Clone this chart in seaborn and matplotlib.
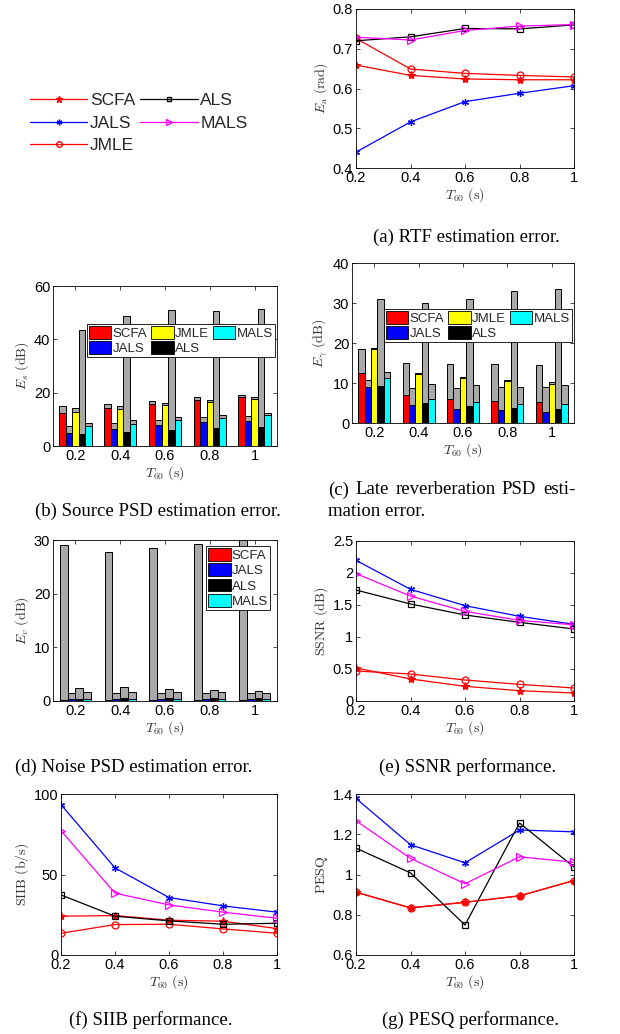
import matplotlib
matplotlib.use("Agg")
import matplotlib.pyplot as plt
import seaborn as sns
import pandas as pd
from matplotlib.patches import Patch
from matplotlib.lines import Line2D

sns.set_theme(style="ticks")
plt.rcParams['font.family'] = ['Liberation Sans', 'DejaVu Sans']
plt.rcParams['mathtext.fontset'] = 'cm'
plt.rcParams['axes.linewidth'] = 0.6
plt.rcParams['axes.edgecolor'] = 'black'

# ---- data ----
t60 = [0.2, 0.4, 0.6, 0.8, 1.0]
t60_labels = ["0.2", "0.4", "0.6", "0.8", "1"]
methods = ["SCFA", "JALS", "JMLE", "ALS", "MALS"]

# (a) RTF estimation error (rad)
rtf_err = {
    "SCFA": [0.659, 0.633, 0.624, 0.622, 0.622],
    "JALS": [0.440, 0.516, 0.567, 0.588, 0.607],
    "JMLE": [0.726, 0.649, 0.638, 0.633, 0.629],
    "ALS":  [0.720, 0.730, 0.751, 0.750, 0.760],
    "MALS": [0.729, 0.722, 0.746, 0.757, 0.761],
}

# (b) source PSD estimation error (dB): coloured part and grey top
src_methods = ["SCFA", "JALS", "JMLE", "ALS", "MALS"]
src_err = {
    "SCFA": [12.4, 14.4, 15.9, 17.4, 18.4],
    "JALS": [5.0, 6.5, 7.9, 9.0, 9.5],
    "JMLE": [12.9, 13.9, 15.5, 16.6, 17.6],
    "ALS":  [4.6, 5.1, 5.9, 6.6, 7.1],
    "MALS": [7.5, 8.4, 9.9, 10.6, 11.6],
}
src_err_top = {
    "SCFA": [14.9, 15.9, 17.0, 18.25, 19.1],
    "JALS": [7.4, 8.75, 9.9, 10.9, 11.4],
    "JMLE": [14.1, 15.1, 16.25, 17.25, 18.25],
    "ALS":  [43.4, 48.6, 51.1, 50.5, 51.4],
    "MALS": [8.75, 9.9, 11.0, 11.75, 12.5],
}

# (c) late reverberation PSD estimation error (dB)
rev_err = {
    "SCFA": [12.5, 7.1, 6.0, 5.6, 5.2],
    "JALS": [9.0, 4.4, 3.6, 3.2, 2.8],
    "JMLE": [18.6, 12.3, 11.2, 10.4, 9.8],
    "ALS":  [9.3, 5.0, 4.2, 3.7, 3.4],
    "MALS": [11.3, 6.1, 5.2, 4.8, 4.8],
}
rev_err_top = {
    "SCFA": [18.4, 15.1, 14.75, 14.75, 14.5],
    "JALS": [10.7, 8.7, 8.7, 9.1, 8.9],
    "JMLE": [18.8, 12.6, 11.4, 10.7, 10.2],
    "ALS":  [31.1, 30.0, 31.1, 33.1, 33.6],
    "MALS": [12.7, 9.75, 9.4, 9.1, 9.4],
}

# (d) noise PSD estimation error (dB)
noise_methods = ["SCFA", "JALS", "ALS", "MALS"]
noise_err = {
    "SCFA": [0.1, 0.1, 0.1, 0.1, 0.1],
    "JALS": [0.3, 0.35, 0.35, 0.35, 0.35],
    "ALS":  [0.4, 0.5, 0.5, 0.5, 0.5],
    "MALS": [0.3, 0.3, 0.3, 0.3, 0.3],
}
noise_err_top = {
    "SCFA": [29.0, 27.8, 28.6, 29.25, 30.5],
    "JALS": [1.4, 1.5, 1.5, 1.4, 1.4],
    "ALS":  [2.4, 2.6, 2.2, 2.0, 1.8],
    "MALS": [1.7, 1.7, 1.6, 1.6, 1.5],
}

# (e) SSNR (dB)
ssnr = {
    "SCFA": [0.516, 0.344, 0.229, 0.161, 0.125],
    "JALS": [2.198, 1.745, 1.490, 1.323, 1.198],
    "JMLE": [0.469, 0.422, 0.328, 0.260, 0.203],
    "ALS":  [1.734, 1.516, 1.344, 1.229, 1.125],
    "MALS": [1.990, 1.640, 1.400, 1.260, 1.190],
}

# (f) SIIB (b/s)
siib = {
    "SCFA": [24.1, 24.5, 21.6, 21.0, 16.4],
    "JALS": [93.4, 54.1, 35.7, 30.5, 26.6],
    "JMLE": [13.5, 18.9, 19.1, 16.2, 13.5],
    "ALS":  [37.3, 24.1, 21.2, 19.1, 19.7],
    "MALS": [77.2, 38.4, 31.1, 26.6, 22.8],
}

# (g) PESQ
pesq = {
    "SCFA": [0.912, 0.834, 0.862, 0.894, 0.970],
    "JALS": [1.378, 1.148, 1.058, 1.221, 1.212],
    "JMLE": [0.912, 0.834, 0.862, 0.894, 0.970],
    "ALS":  [1.131, 1.008, 0.749, 1.256, 1.037],
    "MALS": [1.267, 1.080, 0.954, 1.088, 1.061],
}

# ---- styles ----
line_style = {
    "SCFA": dict(color="red", marker="*", mfc="red", ms=6),
    "JALS": dict(color="blue", marker=(6, 2, 0), mfc="blue", ms=5),
    "JMLE": dict(color="red", marker="o", mfc="none", ms=5),
    "ALS":  dict(color="black", marker="s", mfc="none", ms=4),
    "MALS": dict(color="magenta", marker=">", mfc="none", ms=6),
}
bar_color = {"SCFA": "red", "JALS": "blue", "JMLE": "yellow", "ALS": "black", "MALS": "cyan"}
GREY = "#a9a9a9"

W, H = 620, 1034
fig = plt.figure(figsize=(W / 100, H / 100), dpi=100)


def add_ax(l, r, t, b):
    return fig.add_axes([l / W, 1 - b / H, (r - l) / W, (b - t) / H])


def style_ax(ax, ylabel):
    ax.tick_params(direction="in", top=True, right=True, length=3, width=0.5,
                   labelsize=10.5, pad=2, colors="black")
    for s in ax.spines.values():
        s.set_linewidth(0.6)
        s.set_color("black")
    ax.set_xlabel(r"$T_{60}\ \mathrm{(s)}$", fontsize=10, labelpad=1, color="#333333")
    ax.set_ylabel(ylabel, fontsize=10, labelpad=2, color="#333333")


def line_panel(ax, data, ylim, yticks, ylabel):
    for m in methods:
        st = line_style[m]
        sns.lineplot(x=t60, y=data[m], ax=ax, color=st["color"], marker=st["marker"],
                     markerfacecolor=st["mfc"], markeredgecolor=st["color"],
                     markersize=st["ms"], markeredgewidth=0.9, linewidth=0.9)
    ax.set_xlim(0.2, 1.0)
    ax.set_xticks(t60)
    ax.set_xticklabels(t60_labels)
    ax.set_ylim(*ylim)
    ax.set_yticks(yticks)
    style_ax(ax, ylabel)


def bar_panel(ax, order, low, top, ylim, yticks, ylabel, width):
    rows = []
    for m in order:
        for i, lab in enumerate(t60_labels):
            rows.append({"T60": lab, "method": m, "low": low[m][i], "top": top[m][i]})
    df = pd.DataFrame(rows)
    sns.barplot(data=df, x="T60", y="top", hue="method", order=t60_labels, hue_order=order,
                palette={m: GREY for m in order}, width=width, edgecolor="black",
                linewidth=0.7, saturation=1, errorbar=None, legend=False, ax=ax)
    sns.barplot(data=df, x="T60", y="low", hue="method", order=t60_labels, hue_order=order,
                palette=bar_color, width=width, edgecolor="black",
                linewidth=0.7, saturation=1, errorbar=None, legend=False, ax=ax)
    ax.set_xlim(-0.5, 4.5)
    ax.set_ylim(*ylim)
    ax.set_yticks(yticks)
    style_ax(ax, ylabel)


def bar_legend(ax, order, ncol, anchor):
    handles = [Patch(facecolor=bar_color[m], edgecolor="black", linewidth=0.6) for m in order]
    leg = ax.legend(handles, order, ncol=ncol, loc="upper right", bbox_to_anchor=anchor,
                    borderaxespad=0, fontsize=9.5, handlelength=1.7, handleheight=1.1,
                    handletextpad=0.1, columnspacing=0.3, labelspacing=0.12,
                    borderpad=0.15, fancybox=False, framealpha=1, edgecolor="black")
    leg.get_frame().set_linewidth(0.6)


# (a)
ax_a = add_ax(356, 574, 9, 168)
line_panel(ax_a, rtf_err, (0.4, 0.8), [0.4, 0.5, 0.6, 0.7, 0.8], r"$E_{\mathrm{a}}\ \mathrm{(rad)}$")

# (b)
ax_b = add_ax(53, 277, 286, 446)
bar_panel(ax_b, src_methods, src_err, src_err_top, (0, 60), [0, 20, 40, 60],
          r"$E_s\ \mathrm{(dB)}$", 0.72)
bar_legend(ax_b, src_methods, 3, (0.991, 0.7625))

# (c)
ax_c = add_ax(352, 574, 263, 423)
bar_panel(ax_c, src_methods, rev_err, rev_err_top, (0, 40), [0, 10, 20, 30, 40],
          r"$E_\gamma\ \mathrm{(dB)}$", 0.72)
bar_legend(ax_c, src_methods, 3, (0.991, 0.7125))

# (d)
ax_d = add_ax(53, 277, 540, 701)
bar_panel(ax_d, noise_methods, noise_err, noise_err_top, (0, 30), [0, 10, 20, 30],
          r"$E_v\ \mathrm{(dB)}$", 0.70)
bar_legend(ax_d, noise_methods, 1, (0.969, 0.963))

# (e)
ax_e = add_ax(356, 574, 541, 701)
line_panel(ax_e, ssnr, (0, 2.5), [0, 0.5, 1, 1.5, 2, 2.5], r"$\mathrm{SSNR\ (dB)}$")
ax_e.set_yticklabels(["0", "0.5", "1", "1.5", "2", "2.5"])

# (f)
ax_f = add_ax(61, 277, 794, 955)
line_panel(ax_f, siib, (0, 100), [0, 50, 100], r"$\mathrm{SIIB\ (b/s)}$")

# (g)
ax_g = add_ax(356, 574, 794, 955)
line_panel(ax_g, pesq, (0.6, 1.4), [0.6, 0.8, 1.0, 1.2, 1.4], r"$\mathrm{PESQ}$")
ax_g.set_yticklabels(["0.6", "0.8", "1", "1.2", "1.4"])

# shared line legend (top left)
handles = []
for m in methods:
    st = line_style[m]
    handles.append(Line2D([0], [0], color=st["color"], marker=st["marker"], markerfacecolor=st["mfc"],
                          markeredgecolor=st["color"], markersize=st["ms"] - 1, linewidth=0.9))
fig.legend(handles, methods, ncol=2, loc="upper left", bbox_to_anchor=(30 / W, 1 - 93 / H),
           frameon=False, fontsize=12.5, handlelength=3.3, handletextpad=0.15,
           columnspacing=0.3, labelspacing=0.42, borderpad=0, borderaxespad=0)

# captions
cap = dict(fontsize=13.5, family="Liberation Serif", va="center", color="black")
fig.text(466 / W, 1 - 237 / H, "(a) RTF estimation error.", ha="center", **cap)
fig.text(158 / W, 1 - 511 / H, "(b) Source PSD estimation error.", ha="center", **cap)
fig.text(328 / W, 1 - 511 / H, "mation error.", ha="left", **cap)
fig.text(134 / W, 1 - 767 / H, "(d) Noise PSD estimation error.", ha="center", **cap)
fig.text(468 / W, 1 - 767 / H, "(e) SSNR performance.", ha="center", **cap)
fig.text(151 / W, 1 - 1020 / H, "(f) SIIB performance.", ha="center", **cap)
fig.text(470 / W, 1 - 1020 / H, "(g) PESQ performance.", ha="center", **cap)

# justified first line of caption (c)
words = ["(c)", "Late", "reverberation", "PSD", "esti-"]
x_left, x_right = 328, 575
renderer = fig.canvas.get_renderer()
texts = [fig.text(0, 1 - 490 / H, w, ha="left", **cap) for w in words]
widths = [t.get_window_extent(renderer).width for t in texts]
gap = (x_right - x_left - sum(widths)) / (len(words) - 1)
x = x_left
for t, w in zip(texts, widths):
    t.set_x(x / W)
    x += w + gap

fig.savefig("out.png", dpi=100, facecolor="white")
